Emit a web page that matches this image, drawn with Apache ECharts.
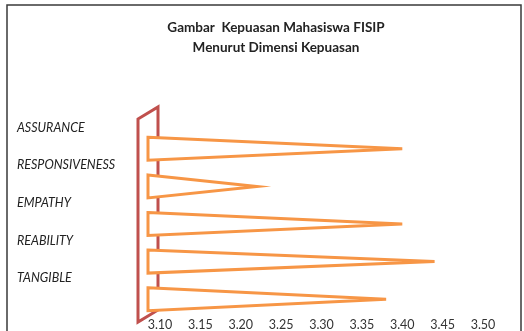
<!DOCTYPE html>
<html>
<head>
<meta charset="utf-8">
<script src="https://cdn.jsdelivr.net/npm/echarts@6/dist/echarts.min.js"></script>
<style>
  html, body { margin: 0; padding: 0; background: #fff; }
  #chart { width: 524px; height: 331px; }
</style>
</head>
<body>
<div id="chart"></div>
<script>
// Satisfaction dimensions (top to bottom) and mean scores
const dimensions = ['ASSURANCE', 'RESPONSIVENESS', 'EMPATHY', 'REABILITY', 'TANGIBLE'];
const scores = [3.40, 3.22, 3.40, 3.44, 3.38];
const axisMin = 3.10;
const axisMax = 3.50;
const axisStep = 0.05;

const GRID = { left: 160, right: 41, top: 130, bottom: 13 };
const W = 524, H = 331;
const FONT = 'Lato, "Open Sans", sans-serif';

const chart = echarts.init(document.getElementById('chart'), null, { renderer: 'canvas' });

// back wall of the 3D category axis
const L = GRID.left, T = GRID.top, B = H - GRID.bottom;
const wall = [[L - 22, T - 11], [L - 2, T - 23], [L - 2, B - 8], [L - 22, B + 4]];

chart.setOption({
  animation: false,
  backgroundColor: '#fff',
  title: {
    text: 'Gambar  Kepuasan Mahasiswa FISIP\nMenurut Dimensi Kepuasan',
    left: 271,
    top: 13,
    textAlign: 'center',
    textStyle: { fontFamily: FONT, fontSize: 13.5, fontWeight: 'bold', color: '#222', lineHeight: 20 }
  },
  graphic: [
    {
      type: 'rect', silent: true, z: 0,
      shape: { x: 7, y: 5, width: 514, height: 340 },
      style: { fill: 'none', stroke: '#3a3a3a', lineWidth: 1.5 }
    },
    {
      type: 'polygon', silent: true, z: 1,
      shape: { points: wall },
      style: { fill: 'none', stroke: '#C0504D', lineWidth: 3 }
    }
  ],
  grid: {
    left: GRID.left, right: GRID.right, top: GRID.top, bottom: GRID.bottom,
    outerBoundsMode: 'none'
  },
  xAxis: {
    type: 'value',
    min: axisMin,
    max: axisMax,
    interval: axisStep,
    axisLine: { show: false },
    axisTick: { show: false },
    splitLine: { show: false },
    axisLabel: {
      margin: 0,
      fontFamily: FONT,
      fontSize: 12.5,
      color: '#333',
      formatter: v => v.toFixed(2)
    }
  },
  yAxis: {
    type: 'category',
    data: dimensions,
    inverse: true,
    axisLine: { show: false },
    axisTick: { show: false },
    splitLine: { show: false },
    axisLabel: {
      interval: 0,
      hideOverlap: false,
      align: 'left',
      margin: 143,
      fontFamily: FONT,
      fontSize: 12.5,
      fontStyle: 'italic',
      color: '#222',
      verticalAlign: 'middle',
      lineHeight: 42,
      // second (blank) line lifts the name above its cone
      formatter: v => v + '\n '
    }
  },
  series: [{
    type: 'custom',
    z: 5,
    data: scores.map((v, i) => [v, i]),
    encode: { x: 0, y: 1 },
    renderItem: function (params, api) {
      const tip = api.coord([api.value(0), api.value(1)]);
      const base = api.coord([axisMin, api.value(1)]);
      const half = 11.5;
      const bx = base[0] - 12;
      return {
        type: 'polygon',
        shape: { points: [[bx, tip[1] - half], [tip[0], tip[1]], [bx, tip[1] + half]] },
        style: { fill: '#fff', stroke: '#F79646', lineWidth: 3, lineJoin: 'miter' }
      };
    }
  }]
});
</script>
</body>
</html>
